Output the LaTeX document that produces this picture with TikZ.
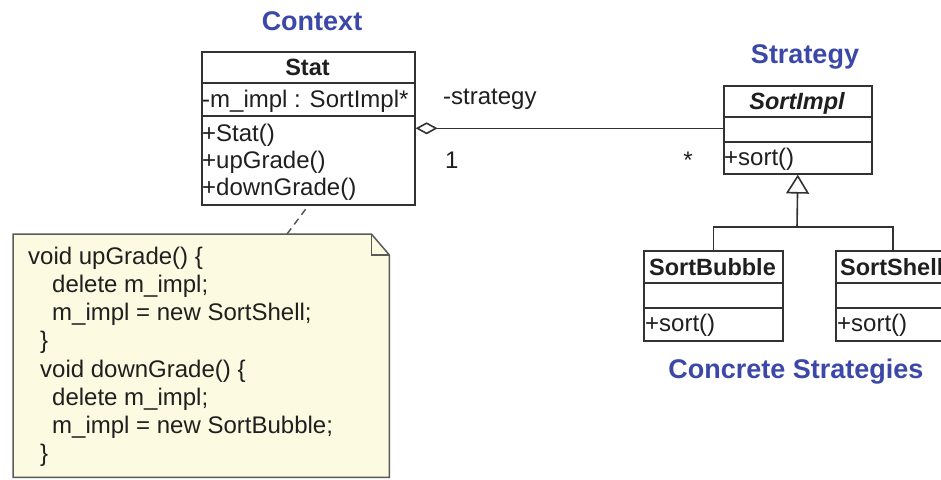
\documentclass[tikz,border=0pt]{standalone}
\usepackage{fontspec}
\setmainfont{Liberation Sans}
\usetikzlibrary{arrows.meta,calc}
\definecolor{umlline}{RGB}{50,50,50}
\definecolor{notefill}{RGB}{252,250,224}
\definecolor{noteline}{RGB}{90,90,90}
\definecolor{rolecolor}{RGB}{60,72,168}

\begin{document}
\begin{tikzpicture}[x=1pt,y=-1pt,
  txt/.style={inner sep=0pt, anchor=base west, text=black!88,
    font=\fontsize{24}{28}\selectfont},
  ctxt/.style={txt, anchor=base},
  btxt/.style={ctxt, font=\fontsize{23.5}{28}\selectfont\bfseries},
  role/.style={inner sep=0pt, anchor=base, text=rolecolor,
    font=\fontsize{27}{32}\selectfont\bfseries},
  classbox/.style={draw=umlline, line width=1.6pt, fill=white,
    anchor=north west, inner sep=0pt},
  sepline/.style={draw=umlline, line width=1.6pt},
  assoc/.style={draw=umlline, line width=1.6pt},
]
\useasboundingbox (0,0) rectangle (941,479);
\clip (0,0) rectangle (941,479);
\fill[white] (0,0) rectangle (941,479);

% ---------- note with the method bodies ----------
\node[inner sep=0pt, minimum width=376pt, minimum height=243pt,
      anchor=north west] (note) at (13,234) {};
\coordinate (fold) at ($(note.north east)+(-18,0)$);
\filldraw[fill=notefill, draw=noteline, line width=1.5pt, line join=miter]
  (note.north west) -- (fold) -- ($(note.north east)+(0,21)$)
  -- (note.south east) -- (note.south west) -- cycle;
\draw[noteline, line width=1.5pt]
  (fold) -- ($(fold)+(0,21)$) -- ($(note.north east)+(0,21)$);

\node[txt] (n1) at (28,264) {void upGrade() \{};
\node[txt] (n2) at (52,292) {delete m\_impl;};
\node[txt] (n3) at (52,320) {m\_impl = new SortShell;};
\node[txt] (n4) at (40,348) {\}};
\node[txt] (n5) at (40,377) {void downGrade() \{};
\node[txt] (n6) at (52,405) {delete m\_impl;};
\node[txt] (n7) at (52,433) {m\_impl = new SortBubble;};
\node[txt] (n8) at (40,461) {\}};

% ---------- Context class ----------
\node[role] (ctxlabel) at (312,30) {Context};
\node[classbox, minimum width=213pt, minimum height=153pt] (stat) at (201,51) {};
\draw[sepline] (stat.west |- 0,83) -- (stat.east |- 0,83);
\draw[sepline] (stat.west |- 0,116) -- (stat.east |- 0,116);
\node[btxt] (statname) at (307.5,75) {Stat};
\node[txt] (statattr) at (202,107) {-m\_impl : SortImpl*};
\node[txt] (statm1) at (202,141) {+Stat()};
\node[txt] (statm2) at (202,168) {+upGrade()};
\node[txt] (statm3) at (202,195) {+downGrade()};

% link from the note to the class
\coordinate (notetip) at (287,234);
\draw[noteline, line width=1.5pt, dash pattern=on 7pt off 5pt]
  (notetip) -- (stat.south);

% ---------- Strategy interface ----------
\node[role] (strlabel) at (805,63) {Strategy};
\node[classbox, minimum width=148pt, minimum height=88pt] (impl) at (723,85) {};
\draw[sepline] (impl.west |- 0,117) -- (impl.east |- 0,117);
\draw[sepline] (impl.west |- 0,142) -- (impl.east |- 0,142);
\node[btxt, font=\fontsize{23.5}{28}\selectfont\bfseries\itshape]
  (implname) at (797,109) {SortImpl};
\node[txt] (implm) at (724,165) {+sort()};

% aggregation
\draw[assoc, {Diamond[open, fill=white, length=22pt, width=12pt]}-]
  (stat.east) -- (stat.east -| impl.west);
\node[txt] (rolename) at (443,104) {-strategy};
\node[txt] (multone) at (445,168) {1};
\node[ctxt] (multmany) at (688,168) {*};

% ---------- concrete strategies ----------
\node[classbox, minimum width=139pt, minimum height=90pt] (bubble) at (643,250) {};
\draw[sepline] (bubble.west |- 0,283) -- (bubble.east |- 0,283);
\draw[sepline] (bubble.west |- 0,308) -- (bubble.east |- 0,308);
\node[btxt] (bubblename) at (712.5,275) {SortBubble};
\node[txt] (bubblem) at (645,331) {+sort()};

\node[classbox, minimum width=114pt, minimum height=90pt] (shell) at (835,250) {};
\draw[sepline] (shell.west |- 0,283) -- (shell.east |- 0,283);
\draw[sepline] (shell.west |- 0,308) -- (shell.east |- 0,308);
\node[btxt, anchor=base west] (shellname) at (840,275) {SortShell};
\node[txt] (shellm) at (837,331) {+sort()};

% generalization
\coordinate (fork) at (797,227);
\draw[assoc] (bubble.north) |- (fork) -| (shell.north);
\draw[assoc, -{Triangle[open, fill=white, length=19pt, width=23pt]}]
  (fork) -- (impl.south);

\node[role] (concretelabel) at (796,378) {Concrete Strategies};
\end{tikzpicture}
\end{document}
